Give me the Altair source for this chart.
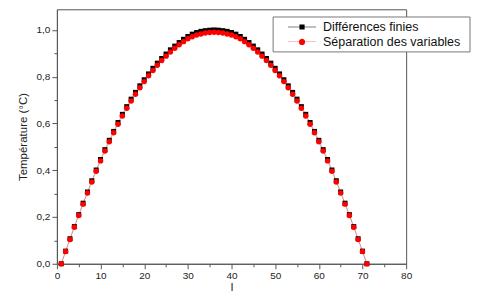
import altair as alt
import pandas as pd

# ---- data ----
x_vals = list(range(1, 72))
series_names = ["Différences finies", "Séparation des variables"]

diff_finies = [
    0.000, 0.054, 0.107, 0.159, 0.210, 0.259, 0.307, 0.355, 0.401, 0.446,
    0.488, 0.528, 0.566, 0.604, 0.639, 0.672, 0.704, 0.733, 0.761, 0.787,
    0.812, 0.836, 0.858, 0.878, 0.897, 0.915, 0.931, 0.946, 0.960, 0.972,
    0.982, 0.989, 0.994, 0.997, 0.999, 1.000, 0.999, 0.997, 0.994, 0.989,
    0.982, 0.972, 0.960, 0.946, 0.931, 0.915, 0.897, 0.878, 0.858, 0.836,
    0.812, 0.787, 0.761, 0.733, 0.704, 0.672, 0.639, 0.604, 0.566, 0.528,
    0.488, 0.446, 0.401, 0.355, 0.307, 0.259, 0.210, 0.159, 0.107, 0.054,
    0.000,
]
sep_vars = [
    0.000, 0.052, 0.104, 0.156, 0.206, 0.255, 0.303, 0.350, 0.396, 0.440,
    0.482, 0.522, 0.560, 0.597, 0.632, 0.665, 0.696, 0.725, 0.753, 0.779,
    0.804, 0.827, 0.849, 0.869, 0.888, 0.906, 0.922, 0.937, 0.950, 0.962,
    0.971, 0.978, 0.983, 0.987, 0.989, 0.990, 0.989, 0.987, 0.983, 0.978,
    0.971, 0.962, 0.950, 0.937, 0.922, 0.906, 0.888, 0.869, 0.849, 0.827,
    0.804, 0.779, 0.753, 0.725, 0.696, 0.665, 0.632, 0.597, 0.560, 0.522,
    0.482, 0.440, 0.396, 0.350, 0.303, 0.255, 0.206, 0.156, 0.104, 0.052,
    0.000,
]
x_ticks = list(range(0, 81, 5))
y_ticks = [0.0, 0.1, 0.2, 0.3, 0.4, 0.5, 0.6, 0.7, 0.8, 0.9, 1.0]

df = pd.DataFrame({
    "x": x_vals + x_vals,
    "y": diff_finies + sep_vars,
    "serie": [series_names[0]] * len(x_vals) + [series_names[1]] * len(x_vals),
})

FONT = "Liberation Sans"
AX = "#555555"

xscale = alt.Scale(domain=[0, 80], nice=False, zero=False)
yscale = alt.Scale(domain=[0, 1.0883], nice=False, zero=False)

xaxis = alt.Axis(
    values=x_ticks, title="I", grid=False,
    labelExpr="datum.value % 10 == 0 ? datum.label : ''",
    tickSize={"condition": {"test": "datum.value % 10 == 0", "value": 5}, "value": 3},
    labelOverlap=False, labelFlush=False, labelPadding=2,
    labelFontSize=10, titleFontSize=11, titleFontWeight="normal",
    titleY=26.5, titleBaseline="alphabetic",
)
yaxis = alt.Axis(
    values=y_ticks, title="Température (°C)", grid=False,
    labelExpr="round(datum.value*10) % 2 == 0 ? replace(format(datum.value, '.1f'), '.', ',') : ''",
    tickSize={"condition": {"test": "round(datum.value*10) % 2 == 0", "value": 5}, "value": 3},
    labelOverlap=False, labelFlush=False, labelPadding=2,
    labelFontSize=10, titleFontSize=11.5, titlePadding=7.5, titleFontWeight="normal",
)

X = alt.X("x:Q", scale=xscale, axis=xaxis)
Y = alt.Y("y:Q", scale=yscale, axis=yaxis)

line_black = alt.Chart(df).transform_filter(alt.datum.serie == series_names[0]).mark_line(
    color="#000000", strokeWidth=0.8, opacity=0.3).encode(x=X, y=Y)
line_red = alt.Chart(df).transform_filter(alt.datum.serie == series_names[1]).mark_line(
    color="#ff0000", strokeWidth=0.8, opacity=0.35).encode(x=X, y=Y)
pts_black = alt.Chart(df).transform_filter(alt.datum.serie == series_names[0]).mark_square(
    color="#000000", size=25, opacity=1).encode(x=X, y=Y)
pts_red = alt.Chart(df).transform_filter(alt.datum.serie == series_names[1]).mark_circle(
    color="#ff0000", size=30, opacity=1).encode(x=X, y=Y)

# legend frame (white box with grey border, drawn over the plot frame)
legend_box = alt.Chart(pd.DataFrame({"k": [0]})).mark_rect(
    fill="#ffffff", stroke="#777777", strokeWidth=1).encode(
    x=alt.value(216.7), x2=alt.value(414), y=alt.value(7.7), y2=alt.value(42.7))

path_sq = "M0.71,-0.025H4.71V0.025H0.71Z M2.34,-0.37H3.08V0.37H2.34Z"
path_ci = ("M0.71,-0.025H4.71V0.025H0.71Z "
           "M2.26,0A0.45,0.45 0 1,1 3.16,0A0.45,0.45 0 1,1 2.26,0Z")

leg = alt.Legend(
    title=None, orient="none", legendX=216.7, legendY=7.7, padding=3,
    symbolSize=196, symbolStrokeWidth=0, symbolOpacity=1,
    labelFont=FONT, labelFontSize=12.5, labelColor="#111111", labelOffset=33,
    labelLimit=0, rowPadding=1,
)
legend_layer = alt.Chart(df).mark_point(filled=True, opacity=0).encode(
    x=X, y=Y,
    color=alt.Color("serie:N", scale=alt.Scale(domain=series_names, range=["#000000", "#ff0000"]), legend=leg),
    shape=alt.Shape("serie:N", scale=alt.Scale(domain=series_names, range=[path_sq, path_ci]), legend=leg),
)

chart = alt.layer(line_black, line_red, pts_black, pts_red, legend_box, legend_layer).properties(
    width=350, height=255,
    autosize=alt.AutoSizeParams(type="none"),
    padding={"left": 49, "top": 1, "right": 66, "bottom": 28},
    background="white",
).configure_view(
    stroke=AX, strokeWidth=1,
).configure_axis(
    domainColor=AX, tickColor=AX, labelColor="#222222", titleColor="#222222",
    labelFont=FONT, titleFont=FONT, domainWidth=1, tickWidth=1,
)

chart.save("out.html", embed_options={"renderer": "svg", "actions": False})
